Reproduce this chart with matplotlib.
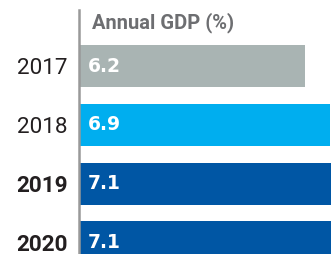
import matplotlib
matplotlib.use("Agg")
import matplotlib.pyplot as plt

years = ["2017", "2018", "2019", "2020"]
gdp = [6.2, 6.9, 7.1, 7.1]
value_labels = ["6.2", "6.9", "7.1", "7.1"]
bold_years = [False, False, True, True]
colors = ["#a9b4b3", "#00aeef", "#0056a4", "#0056a4"]
title = "Annual GDP (%)"

W, H = 331, 254
fig = plt.figure(figsize=(W / 100, H / 100), dpi=100)
fig.patch.set_facecolor("white")
ax = fig.add_axes([79 / W, 0, 1 - 79 / W, 1 - 10 / H])
ax.set_facecolor("none")

ypos = list(range(len(years)))
ax.barh(ypos, gdp, height=0.72, color=colors, left=0)
ax.set_xlim(0, 6.92)
ax.set_ylim(3.2, -0.96)

for s in ["top", "right", "bottom"]:
    ax.spines[s].set_visible(False)
ax.spines["left"].set_color("#999999")
ax.spines["left"].set_linewidth(1.8)
ax.set_xticks([])
ax.set_yticks(ypos)
ax.set_yticklabels(years)
ax.tick_params(axis="y", length=0, pad=8)
for lbl, b in zip(ax.get_yticklabels(), bold_years):
    lbl.set_fontfamily("Roboto")
    lbl.set_fontsize(16.2)
    lbl.set_color("#231f20")
    lbl.set_fontweight("bold" if b else "normal")

for y, v, t in zip(ypos, gdp, value_labels):
    ax.text(0.25, y, t, color="white", fontsize=13.5, fontweight="bold",
            family="DejaVu Sans", va="center", ha="left")

fig.text(92 / W, 1 - 23 / H, title, color="#6d6e71", fontsize=14.5,
         fontweight="bold", family="Roboto", va="center", ha="left")

fig.savefig("out.png", dpi=100)
